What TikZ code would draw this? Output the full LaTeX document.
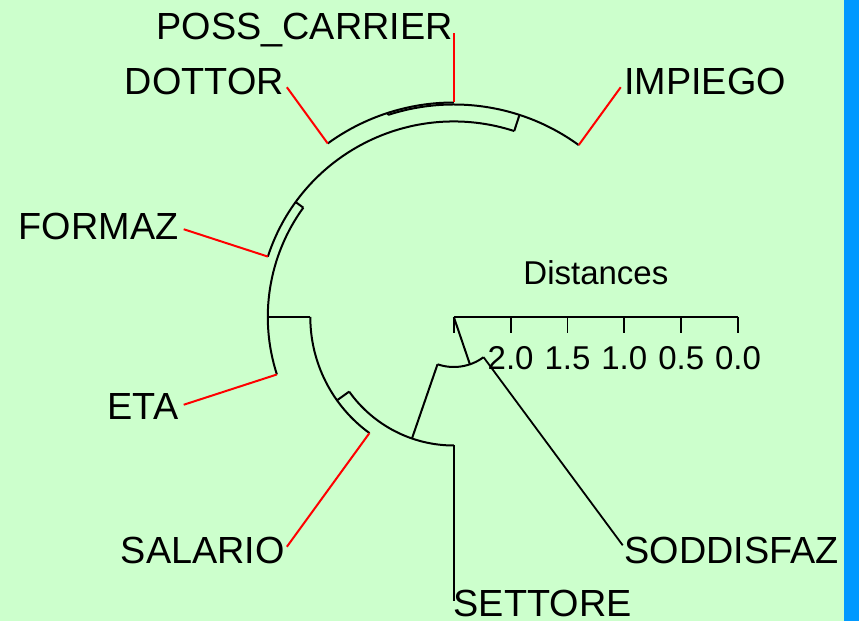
\documentclass[tikz,border=0pt]{standalone}
\usepackage{fontspec}
\setmainfont{Liberation Sans}
\definecolor{bggreen}{RGB}{204,255,204}
\definecolor{barblue}{RGB}{0,153,255}
\definecolor{leafred}{RGB}{255,0,0}
\begin{document}
\begin{tikzpicture}[
  branch/.style={black, line width=2pt},
  redleaf/.style={leafred, line width=2pt},
  blackleaf/.style={black, line width=1.8pt},
  axisline/.style={black, line width=1.8pt},
  leaflabel/.style={font=\fontsize{37.8}{42}\selectfont, inner sep=0pt},
  axislabel/.style={font=\fontsize{33}{37}\selectfont, inner sep=0pt},
]
% background and side bar
\fill[bggreen] (0,0) rectangle (859pt,621pt);
\fill[barblue] (844pt,0) rectangle (859pt,621pt);
\useasboundingbox (0,0) rectangle (859pt,621pt);

% radial dendrogram, centred on the root
\begin{scope}[shift={(453.8pt,304pt)}]
  \coordinate (root) at (0,0);
  % root arc
  \coordinate (rootmid) at (288.8:50pt);
  \coordinate (rA) at (251:50pt);
  \coordinate (rB) at (306.5:50pt);
  % node B
  \coordinate (bIn) at (251:128.5pt);
  \coordinate (bA) at (215.5:128.5pt);
  \coordinate (bB) at (270:128.5pt);
  % node C
  \coordinate (cIn) at (215.5:143.5pt);
  \coordinate (cA) at (180:143.5pt);
  \coordinate (cB) at (234:143.5pt);
  % node D
  \coordinate (dIn) at (180:186pt);
  \coordinate (dA) at (144:186pt);
  \coordinate (dB) at (198:186pt);
  % node E
  \coordinate (eIn) at (144:195.5pt);
  \coordinate (eA) at (72:195.5pt);
  \coordinate (eB) at (162:195.5pt);
  % node F
  \coordinate (fIn) at (72:212.5pt);
  \coordinate (fA) at (54:212.5pt);
  \coordinate (fB) at (108:212.5pt);
  % node G
  \coordinate (gIn) at (108:214.5pt);
  \coordinate (gA) at (90:214.5pt);
  \coordinate (gB) at (126:214.5pt);
  % leaf tips
  \coordinate (tipSodd) at (306.5:284pt);
  \coordinate (tipSett) at (270:284pt);
  \coordinate (tipSal) at (234:284pt);
  \coordinate (tipEta) at (198:284pt);
  \coordinate (tipForm) at (162:284pt);
  \coordinate (tipDott) at (126:284pt);
  \coordinate (tipPoss) at (90:284pt);
  \coordinate (tipImp) at (54:284pt);

  % internal branches
  \draw[branch] (root) -- (rootmid);
  \draw[branch] (rA) arc[start angle=251, end angle=306.5, radius=50pt];
  \draw[branch] (rA) -- (bIn);
  \draw[branch] (bA) arc[start angle=215.5, end angle=270, radius=128.5pt];
  \draw[branch] (bA) -- (cIn);
  \draw[branch] (cA) arc[start angle=180, end angle=234, radius=143.5pt];
  \draw[branch] (cA) -- (dIn);
  \draw[branch] (dA) arc[start angle=144, end angle=198, radius=186pt];
  \draw[branch] (dA) -- (eIn);
  \draw[branch] (eA) arc[start angle=72, end angle=162, radius=195.5pt];
  \draw[branch] (eA) -- (fIn);
  \draw[branch] (fA) arc[start angle=54, end angle=108, radius=212.5pt];
  \draw[branch] (fB) -- (gIn);
  \draw[branch] (gA) arc[start angle=90, end angle=126, radius=214.5pt];

  % leaf edges
  \draw[blackleaf] (rB) -- (tipSodd);
  \draw[blackleaf] (bB) -- (tipSett);
  \draw[redleaf] (cB) -- (tipSal);
  \draw[redleaf] (dB) -- (tipEta);
  \draw[redleaf] (eB) -- (tipForm);
  \draw[redleaf] (gB) -- (tipDott);
  \draw[redleaf] (gA) -- (tipPoss);
  \draw[redleaf] (fA) -- (tipImp);
\end{scope}

% leaf labels
\node[leaflabel, anchor=base east] (lPoss) at (453pt,581pt) {POSS\_CARRIER};
\node[leaflabel, anchor=base east] (lDott) at (284pt,526.7pt) {DOTTOR};
\node[leaflabel, anchor=base west] (lImp) at (624pt,526.7pt) {IMPIEGO};
\node[leaflabel, anchor=base east] (lForm) at (178.5pt,381pt) {FORMAZ};
\node[leaflabel, anchor=base east] (lEta) at (178.5pt,201.7pt) {ETA};
\node[leaflabel, anchor=base east] (lSal) at (285pt,57.5pt) {SALARIO};
\node[leaflabel, anchor=base west] (lSodd) at (624.5pt,57.5pt) {SODDISFAZ};
\node[leaflabel, anchor=base west] (lSett) at (453.5pt,4.5pt) {SETTORE};

% distance scale
\coordinate (ax0) at (453.8pt,304pt);
\coordinate (ax1) at (510.6pt,304pt);
\coordinate (ax2) at (567.5pt,304pt);
\coordinate (ax3) at (624.3pt,304pt);
\coordinate (ax4) at (681.2pt,304pt);
\coordinate (ax5) at (738pt,304pt);
\draw[axisline] (ax0) -- (ax5);
\foreach \t in {ax0,ax1,ax2,ax3,ax4,ax5}
  \draw[axisline] (\t) -- ++(0,-16pt);
\node[axislabel, anchor=base] (tl1) at (510.6pt,251.7pt) {2.0};
\node[axislabel, anchor=base] (tl2) at (567.5pt,251.7pt) {1.5};
\node[axislabel, anchor=base] (tl3) at (624.3pt,251.7pt) {1.0};
\node[axislabel, anchor=base] (tl4) at (681.2pt,251.7pt) {0.5};
\node[axislabel, anchor=base] (tl5) at (738pt,251.7pt) {0.0};
\node[axislabel, anchor=base] (axtitle) at (595.9pt,336pt) {Distances};
\end{tikzpicture}
\end{document}
